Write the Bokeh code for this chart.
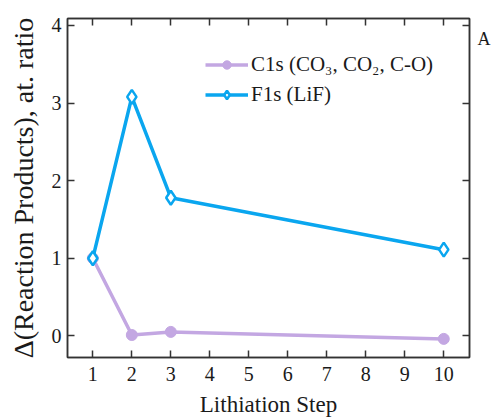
from bokeh.plotting import figure
from bokeh.models import LinearAxis, Range1d, FixedTicker, Legend, LegendItem, CustomJSTickFormatter
from bokeh.embed import file_html
from bokeh.resources import INLINE

steps = [1, 2, 3, 10]
c1s = [1.0, 0.01, 0.05, -0.04]
f1s = [1.0, 3.08, 1.78, 1.11]
x_ticks = [1, 2, 3, 4, 5, 6, 7, 8, 9, 10]
y_ticks = [0, 1, 2, 3, 4]
c1s_label = "C1s (CO\u2083, CO\u2082, C-O)"
f1s_label = "F1s (LiF)"
x_title = "Lithiation Step"
y_title = "\u0394(Reaction Products), at. ratio"
panel = "A"
panel_y = [3.82]

FONT = "'Liberation Serif'"
PURPLE = "#C3A7E2"
BLUE = "#0AA6EF"
INK = "#1a1a1a"

p = figure(width=497, height=419, output_backend="svg", toolbar_location=None,
           x_range=Range1d(0.35, 10.66), y_range=Range1d(-0.28, 4.09),
           min_border_left=67, min_border_top=18, min_border_right=28, min_border_bottom=61)
p.grid.visible = False
p.outline_line_color = "#333333"
p.outline_line_width = 1.5

def style_axis(ax, show_labels=True):
    ax.major_tick_in = 7
    ax.major_tick_out = 0
    ax.minor_tick_line_color = None
    ax.axis_line_color = "#333333"
    ax.axis_line_width = 1.5
    ax.major_tick_line_color = "#333333"
    ax.major_tick_line_width = 1.5
    ax.major_label_text_font = FONT
    ax.major_label_text_font_size = "20px"
    ax.major_label_text_color = INK
    ax.axis_label_text_font = FONT
    ax.axis_label_text_font_style = "normal"
    ax.axis_label_text_color = INK
    if not show_labels:
        ax.formatter = CustomJSTickFormatter(code="return ''")
        ax.major_label_standoff = 0

p.xaxis.ticker = FixedTicker(ticks=x_ticks)
p.yaxis.ticker = FixedTicker(ticks=y_ticks)
style_axis(p.xaxis[0])
style_axis(p.yaxis[0])
p.xaxis.axis_label = x_title
p.yaxis.axis_label = y_title
p.xaxis.axis_label_text_font_size = "23px"
p.yaxis.axis_label_text_font_size = "28px"
p.xaxis.major_label_standoff = 9
p.yaxis.major_label_standoff = 6
p.xaxis.axis_label_standoff = 8
p.yaxis.axis_label_standoff = 10

top = LinearAxis(ticker=FixedTicker(ticks=x_ticks))
style_axis(top, False)
p.add_layout(top, "above")
right = LinearAxis(ticker=FixedTicker(ticks=y_ticks))
style_axis(right, False)
p.add_layout(right, "right")

# panel letter, drawn as the only tick label of an extra right-hand axis
tag = LinearAxis(ticker=FixedTicker(ticks=panel_y),
                 formatter=CustomJSTickFormatter(code="return '%s'" % panel))
tag.axis_line_color = None
tag.major_tick_line_color = None
tag.minor_tick_line_color = None
tag.major_tick_in = 0
tag.major_tick_out = 0
tag.major_label_standoff = 8
tag.major_label_text_font = FONT
tag.major_label_text_font_size = "18px"
tag.major_label_text_color = INK
p.add_layout(tag, "right")

l1 = p.line(steps, c1s, line_color=PURPLE, line_width=3.5)
m1 = p.scatter(steps, c1s, marker="circle", size=11, fill_color=PURPLE, line_color=PURPLE)
l2 = p.line(steps, f1s, line_color=BLUE, line_width=3.5)
m2 = p.scatter(steps, f1s, marker="diamond", size=14, fill_color="white", line_color=BLUE, line_width=2.5)

legend = Legend(items=[LegendItem(label=c1s_label, renderers=[l1, m1]),
                       LegendItem(label=f1s_label, renderers=[l2, m2])],
                location=(138, 250), background_fill_alpha=0, border_line_color=None,
                padding=0, margin=0, spacing=5, glyph_width=43, glyph_height=21,
                label_height=21, label_standoff=3,
                label_text_font=FONT, label_text_font_size="21px",
                label_text_color=INK)
p.add_layout(legend, "center")

open("out.html", "w").write(file_html(p, INLINE))
